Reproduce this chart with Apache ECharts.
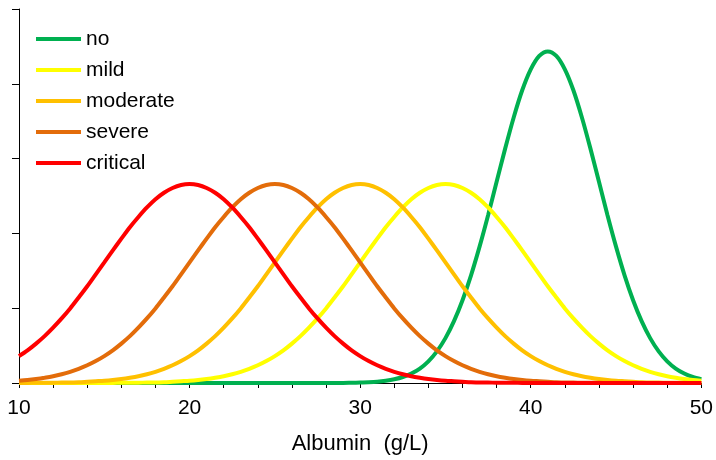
<!DOCTYPE html>
<html>
<head>
<meta charset="utf-8">
<script src="https://cdn.jsdelivr.net/npm/echarts@6/dist/echarts.min.js"></script>
<style>
  html, body { margin: 0; padding: 0; background: #fff; }
  #chart { width: 716px; height: 460px; }
</style>
</head>
<body>
<div id="chart"></div>
<script>
// albumin values on x axis, 10..50 g/L in steps of 0.5
var albumin = [10, 10.5, 11, 11.5, 12, 12.5, 13, 13.5, 14, 14.5, 15, 15.5, 16, 16.5, 17, 17.5, 18, 18.5, 19, 19.5,
               20, 20.5, 21, 21.5, 22, 22.5, 23, 23.5, 24, 24.5, 25, 25.5, 26, 26.5, 27, 27.5, 28, 28.5, 29, 29.5,
               30, 30.5, 31, 31.5, 32, 32.5, 33, 33.5, 34, 34.5, 35, 35.5, 36, 36.5, 37, 37.5, 38, 38.5, 39, 39.5,
               40, 40.5, 41, 41.5, 42, 42.5, 43, 43.5, 44, 44.5, 45, 45.5, 46, 46.5, 47, 47.5, 48, 48.5, 49, 49.5, 50];

var seriesNames = ['no', 'mild', 'moderate', 'severe', 'critical'];
var seriesColors = ['#00B050', '#FFFF00', '#FFC000', '#E36C0A', '#FF0000'];

// curve heights, one value per albumin step
var noVals = [0, 0, 0, 0, 0, 0, 0, 0, 0, 0, 0, 0, 0, 0, 0, 0, 0, 0, 0, 0,
              0, 0, 0, 0, 0, 0, 0, 0, 0, 0, 0, 0, 0, 0, 0, 0, 0, 0, 0, 0.0001,
              0.0002, 0.0003, 0.0005, 0.0009, 0.0015, 0.0024, 0.0038, 0.0058, 0.0087, 0.0127,
              0.0180, 0.0248, 0.0332, 0.0432, 0.0547, 0.0673, 0.0807, 0.0940, 0.1065, 0.1174,
              0.1258, 0.1312, 0.1330, 0.1312, 0.1258, 0.1174, 0.1065, 0.0940, 0.0807, 0.0673,
              0.0547, 0.0432, 0.0332, 0.0248, 0.0180, 0.0127, 0.0087, 0.0058, 0.0038, 0.0024, 0.0015];
var mildVals = [0, 0, 0, 0, 0, 0, 0, 0, 0, 0,
                0, 0, 0.0001, 0.0001, 0.0001, 0.0002, 0.0002, 0.0003, 0.0005, 0.0007,
                0.0009, 0.0012, 0.0016, 0.0021, 0.0027, 0.0035, 0.0045, 0.0057, 0.0071, 0.0088,
                0.0108, 0.0131, 0.0158, 0.0188, 0.0222, 0.0259, 0.0299, 0.0343, 0.0388, 0.0436,
                0.0484, 0.0532, 0.0579, 0.0625, 0.0666, 0.0704, 0.0737, 0.0763, 0.0782, 0.0794,
                0.0798, 0.0794, 0.0782, 0.0763, 0.0737, 0.0704, 0.0666, 0.0625, 0.0579, 0.0532,
                0.0484, 0.0436, 0.0388, 0.0343, 0.0299, 0.0259, 0.0222, 0.0188, 0.0158, 0.0131,
                0.0108, 0.0088, 0.0071, 0.0057, 0.0045, 0.0035, 0.0027, 0.0021, 0.0016, 0.0012, 0.0009];
var moderateVals = [0, 0, 0.0001, 0.0001, 0.0001, 0.0002, 0.0002, 0.0003, 0.0005, 0.0007,
                    0.0009, 0.0012, 0.0016, 0.0021, 0.0027, 0.0035, 0.0045, 0.0057, 0.0071, 0.0088,
                    0.0108, 0.0131, 0.0158, 0.0188, 0.0222, 0.0259, 0.0299, 0.0343, 0.0388, 0.0436,
                    0.0484, 0.0532, 0.0579, 0.0625, 0.0666, 0.0704, 0.0737, 0.0763, 0.0782, 0.0794,
                    0.0798, 0.0794, 0.0782, 0.0763, 0.0737, 0.0704, 0.0666, 0.0625, 0.0579, 0.0532,
                    0.0484, 0.0436, 0.0388, 0.0343, 0.0299, 0.0259, 0.0222, 0.0188, 0.0158, 0.0131,
                    0.0108, 0.0088, 0.0071, 0.0057, 0.0045, 0.0035, 0.0027, 0.0021, 0.0016, 0.0012,
                    0.0009, 0.0007, 0.0005, 0.0003, 0.0002, 0.0002, 0.0001, 0.0001, 0.0001, 0, 0];
var severeVals = [0.0009, 0.0012, 0.0016, 0.0021, 0.0027, 0.0035, 0.0045, 0.0057, 0.0071, 0.0088,
                  0.0108, 0.0131, 0.0158, 0.0188, 0.0222, 0.0259, 0.0299, 0.0343, 0.0388, 0.0436,
                  0.0484, 0.0532, 0.0579, 0.0625, 0.0666, 0.0704, 0.0737, 0.0763, 0.0782, 0.0794,
                  0.0798, 0.0794, 0.0782, 0.0763, 0.0737, 0.0704, 0.0666, 0.0625, 0.0579, 0.0532,
                  0.0484, 0.0436, 0.0388, 0.0343, 0.0299, 0.0259, 0.0222, 0.0188, 0.0158, 0.0131,
                  0.0108, 0.0088, 0.0071, 0.0057, 0.0045, 0.0035, 0.0027, 0.0021, 0.0016, 0.0012,
                  0.0009, 0.0007, 0.0005, 0.0003, 0.0002, 0.0002, 0.0001, 0.0001, 0.0001, 0, 0,
                  0, 0, 0, 0, 0, 0, 0, 0, 0, 0];
var criticalVals = [0.0108, 0.0131, 0.0158, 0.0188, 0.0222, 0.0259, 0.0299, 0.0343, 0.0388, 0.0436,
                    0.0484, 0.0532, 0.0579, 0.0625, 0.0666, 0.0704, 0.0737, 0.0763, 0.0782, 0.0794,
                    0.0798, 0.0794, 0.0782, 0.0763, 0.0737, 0.0704, 0.0666, 0.0625, 0.0579, 0.0532,
                    0.0484, 0.0436, 0.0388, 0.0343, 0.0299, 0.0259, 0.0222, 0.0188, 0.0158, 0.0131,
                    0.0108, 0.0088, 0.0071, 0.0057, 0.0045, 0.0035, 0.0027, 0.0021, 0.0016, 0.0012,
                    0.0009, 0.0007, 0.0005, 0.0003, 0.0002, 0.0002, 0.0001, 0.0001, 0.0001, 0, 0,
                    0, 0, 0, 0, 0, 0, 0, 0, 0, 0, 0, 0, 0, 0, 0, 0, 0, 0, 0, 0];

var allVals = [noVals, mildVals, moderateVals, severeVals, criticalVals];

var series = seriesNames.map(function (name, i) {
    return {
        name: name,
        type: 'line',
        smooth: 0.3,
        symbol: 'none',
        data: albumin.map(function (x, k) { return [x, allVals[i][k]]; }),
        lineStyle: { color: seriesColors[i], width: 4 },
        itemStyle: { color: seriesColors[i] },
        z: 2 + i
    };
});

var chart = echarts.init(document.getElementById('chart'));
chart.setOption({
    animation: false,
    grid: { left: 19, right: 13, top: 9, bottom: 74 },
    legend: {
        orient: 'vertical',
        left: 36,
        top: 28,
        padding: 0,
        icon: 'rect',
        itemWidth: 45,
        itemHeight: 4,
        itemGap: 9,
        textStyle: { fontFamily: 'Liberation Sans', fontSize: 21, color: '#000', lineHeight: 22 },
        data: seriesNames
    },
    xAxis: {
        type: 'value',
        min: 10,
        max: 50,
        interval: 2,
        name: 'Albumin  (g/L)',
        nameLocation: 'middle',
        nameGap: 50,
        nameTextStyle: { fontFamily: 'Liberation Sans', fontSize: 22, color: '#000' },
        axisLine: { lineStyle: { color: '#000', width: 1 } },
        axisTick: { length: 5, lineStyle: { color: '#000' } },
        axisLabel: {
            fontFamily: 'Liberation Sans', fontSize: 21, color: '#000', margin: 15,
            formatter: function (v) { return v % 10 === 0 ? String(v) : ''; }
        },
        splitLine: { show: false }
    },
    yAxis: {
        type: 'value',
        min: 0,
        max: 0.15,
        interval: 0.03,
        axisLine: { show: true, lineStyle: { color: '#000', width: 1 } },
        axisTick: { show: true, length: 7, lineStyle: { color: '#000' } },
        axisLabel: { show: false },
        splitLine: { show: false }
    },
    series: series
});
</script>
</body>
</html>
